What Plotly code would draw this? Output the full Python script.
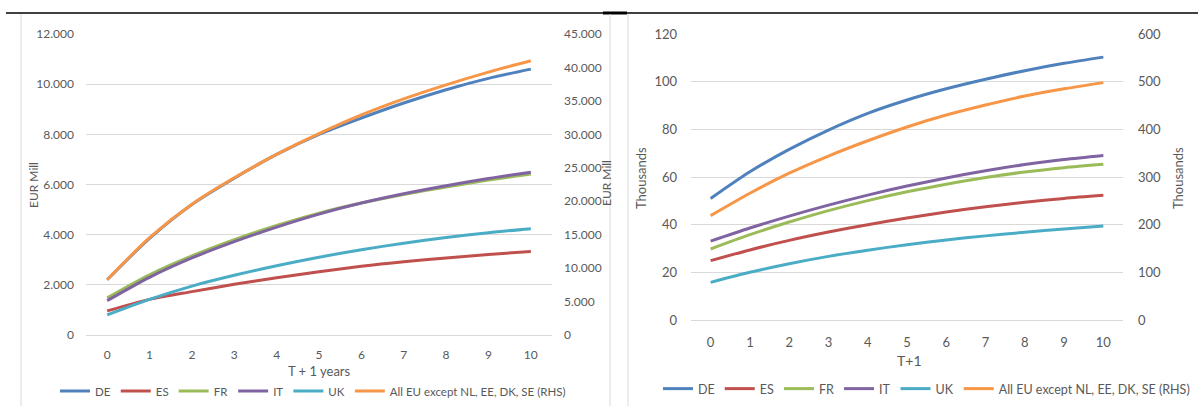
import plotly.graph_objects as go

W, H = 1198, 406

# ---------------- data ----------------
years = list(range(0, 11))
series_names = ["DE", "ES", "FR", "IT", "UK"]
rhs_name = "All EU except NL, EE, DK, SE (RHS)"

# Left chart: EUR Mill (RHS series on secondary axis)
left_DE = [2200, 3850, 5200, 6250, 7200, 8000, 8650, 9250, 9780, 10230, 10600]
left_ES = [960, 1420, 1730, 2020, 2280, 2520, 2740, 2920, 3070, 3210, 3330]
left_FR = [1480, 2400, 3150, 3800, 4370, 4860, 5260, 5600, 5900, 6180, 6420]
left_IT = [1370, 2300, 3070, 3720, 4300, 4820, 5260, 5630, 5950, 6240, 6490]
left_UK = [800, 1420, 1950, 2380, 2760, 3100, 3400, 3660, 3890, 4080, 4240]
left_EU = [8250, 14550, 19550, 23500, 27000, 30100, 32900, 35300, 37400, 39300, 41000]

# Right chart: Thousands (RHS series on secondary axis)
right_DE = [51.0, 62.2, 71.6, 79.7, 86.7, 92.3, 97.0, 101.0, 104.6, 107.7, 110.3]
right_ES = [24.9, 29.4, 33.4, 36.9, 40.0, 42.8, 45.3, 47.5, 49.4, 51.0, 52.3]
right_FR = [29.8, 35.8, 41.1, 45.9, 50.1, 53.8, 57.0, 59.8, 62.1, 63.9, 65.3]
right_IT = [33.1, 38.6, 43.6, 48.2, 52.4, 56.2, 59.6, 62.6, 65.2, 67.3, 69.0]
right_UK = [15.8, 20.0, 23.6, 26.7, 29.3, 31.6, 33.6, 35.3, 36.8, 38.2, 39.4]
right_EU = [219, 266, 308, 344, 376, 405, 430, 451, 470, 485, 498]

left_ticks_main = [0, 2000, 4000, 6000, 8000, 10000, 12000]
left_ticks_rhs = [0, 5000, 10000, 15000, 20000, 25000, 30000, 35000, 40000, 45000]
right_ticks_main = [0, 20, 40, 60, 80, 100, 120]
right_ticks_rhs = [0, 100, 200, 300, 400, 500, 600]

colors = {"DE": "#4F81BD", "ES": "#C0504D", "FR": "#9BBB59",
          "IT": "#8064A2", "UK": "#4BACC6", "EU": "#F79646"}

FONT = "Lato, 'Open Sans', sans-serif"
GREY_TXT = "#595959"
GRID = "#D9D9D9"


def px_x(x):
    return x / W


def px_y(y):
    return (H - y) / H


fig = go.Figure()

left_main = {"DE": left_DE, "ES": left_ES, "FR": left_FR, "IT": left_IT, "UK": left_UK}
right_main = {"DE": right_DE, "ES": right_ES, "FR": right_FR, "IT": right_IT, "UK": right_UK}

LW = 3
for name in series_names:
    fig.add_trace(go.Scatter(x=years, y=left_main[name], name=name, mode="lines",
                             line=dict(color=colors[name], width=LW, shape="spline", smoothing=0.8),
                             xaxis="x", yaxis="y", legend="legend"))
fig.add_trace(go.Scatter(x=years, y=left_EU, name=rhs_name, mode="lines",
                         line=dict(color=colors["EU"], width=LW, shape="spline", smoothing=0.8),
                         xaxis="x", yaxis="y2", legend="legend"))

for name in series_names:
    fig.add_trace(go.Scatter(x=years, y=right_main[name], name=name, mode="lines",
                             line=dict(color=colors[name], width=LW, shape="spline", smoothing=0.8),
                             xaxis="x2", yaxis="y3", legend="legend2"))
fig.add_trace(go.Scatter(x=years, y=right_EU, name=rhs_name, mode="lines",
                         line=dict(color=colors["EU"], width=LW, shape="spline", smoothing=0.8),
                         xaxis="x2", yaxis="y4", legend="legend2"))

tf_left = dict(family=FONT, size=12, color=GREY_TXT)
tf_right = dict(family=FONT, size=13, color=GREY_TXT)

xcommon = dict(range=[-0.5, 10.5], tickvals=years, showgrid=False, zeroline=False,
               showline=True, linecolor=GRID, linewidth=1, ticks="", fixedrange=True)
ycommon = dict(zeroline=False, showline=False, ticks="", fixedrange=True)

fig.update_layout(
    width=W, height=H,
    margin=dict(l=0, r=0, t=0, b=0, autoexpand=False),
    paper_bgcolor="white", plot_bgcolor="white",
    separators=",.",
    showlegend=True,
    xaxis=dict(domain=[px_x(86), px_x(552)], anchor="y", tickfont=tf_left,
               ticklabelstandoff=9, **xcommon),
    yaxis=dict(domain=[px_y(335), px_y(34)], anchor="x", range=[0, 12000],
               tickvals=left_ticks_main, tickformat=",d", showgrid=True, gridcolor=GRID,
               gridwidth=1, tickfont=tf_left, ticklabelstandoff=11, **ycommon),
    yaxis2=dict(overlaying="y", side="right", anchor="x", range=[0, 45000],
                tickvals=left_ticks_rhs, tickformat=",d", showgrid=False,
                tickfont=tf_left, ticklabelstandoff=11, **ycommon),
    xaxis2=dict(domain=[px_x(691), px_x(1123)], anchor="y3", tickfont=tf_right,
                ticklabelstandoff=10, **xcommon),
    yaxis3=dict(domain=[px_y(320), px_y(34)], anchor="x2", range=[0, 120],
                tickvals=right_ticks_main, tickformat="d", showgrid=True, gridcolor=GRID,
                gridwidth=1, tickfont=tf_right, ticklabelstandoff=13, **ycommon),
    yaxis4=dict(overlaying="y3", side="right", anchor="x2", range=[0, 600],
                tickvals=right_ticks_rhs, tickformat="d", showgrid=False,
                tickfont=tf_right, ticklabelstandoff=14, **ycommon),
    legend=dict(orientation="h", x=px_x(55), xanchor="left", y=px_y(391), yanchor="middle",
                font=dict(family=FONT, size=11.5, color=GREY_TXT), bgcolor="rgba(0,0,0,0)",
                borderwidth=0, itemwidth=30, traceorder="normal"),
    legend2=dict(orientation="h", x=px_x(658), xanchor="left", y=px_y(389), yanchor="middle",
                 font=dict(family=FONT, size=12.5, color=GREY_TXT), bgcolor="rgba(0,0,0,0)",
                 borderwidth=0, itemwidth=30, traceorder="normal"),
)

# axis titles
ann = []
ann.append(dict(text="EUR Mill", x=px_x(33), y=px_y(185), textangle=-90))
ann.append(dict(text="EUR Mill", x=px_x(607), y=px_y(183), textangle=-90))
ann.append(dict(text="T + 1 years", x=px_x(319), y=px_y(371), textangle=0, size=13))
ann.append(dict(text="Thousands", x=px_x(641), y=px_y(178), textangle=-90, size=13))
ann.append(dict(text="Thousands", x=px_x(1178), y=px_y(178), textangle=-90, size=13))
ann.append(dict(text="T+1", x=px_x(909), y=px_y(360), textangle=0, size=14))
for a in ann:
    fig.add_annotation(text=a["text"], x=a["x"], y=a["y"], xref="paper", yref="paper",
                       xanchor="center", yanchor="middle", showarrow=False,
                       textangle=a["textangle"],
                       font=dict(family=FONT, size=a.get("size", 12), color=GREY_TXT))

# frame decorations
shapes = [
    dict(type="line", xref="paper", yref="paper", x0=px_x(6), x1=1, y0=px_y(13), y1=px_y(13),
         line=dict(color="black", width=1.5)),
    dict(type="line", xref="paper", yref="paper", x0=px_x(603), x1=px_x(627), y0=px_y(13), y1=px_y(13),
         line=dict(color="black", width=3)),
    dict(type="line", xref="paper", yref="paper", x0=px_x(21), x1=px_x(21), y0=0, y1=px_y(14),
         line=dict(color=GRID, width=1)),
    dict(type="line", xref="paper", yref="paper", x0=px_x(610), x1=px_x(610), y0=0, y1=px_y(14),
         line=dict(color=GRID, width=1)),
    dict(type="line", xref="paper", yref="paper", x0=px_x(628), x1=px_x(628), y0=0, y1=px_y(14),
         line=dict(color=GRID, width=1)),
]
fig.update_layout(shapes=shapes)

fig.write_html(
    "out.html",
    config={"displayModeBar": False},
    post_script="document.body.style.margin='0';document.body.style.overflow='hidden';",
)
